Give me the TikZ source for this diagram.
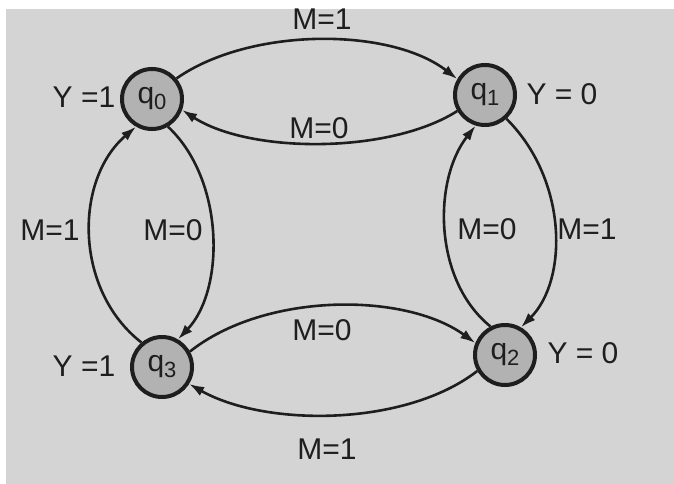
\documentclass[tikz,border=0pt]{standalone}
\usepackage{fontspec}
\setmainfont{Liberation Sans}
\usetikzlibrary{arrows.meta}
\definecolor{paper}{RGB}{212,212,212}
\definecolor{ink}{RGB}{30,30,30}
\definecolor{statefill}{RGB}{178,178,178}
\tikzset{
  state/.style={circle, draw=ink, line width=4pt, fill=statefill, minimum size=60pt, inner sep=0pt,
    font=\fontsize{30}{30}\selectfont, text=ink},
  lbl/.style={font=\fontsize{30}{30}\selectfont, text=ink, inner sep=0pt},
  edge/.style={draw=ink, line width=2.6pt, -{Latex[length=15pt,width=10pt]}},
}
\newcommand{\qs}[1]{q\raisebox{-6pt}{\fontsize{22}{22}\selectfont #1}}
\begin{document}
\begin{tikzpicture}[x=1pt,y=-1pt]
\useasboundingbox (0,0) rectangle (674,484);
\fill[white] (0,0) rectangle (674,484);
\fill[paper] (6,9) rectangle (674,484);

\node[state] (q0) at (152,99) {\qs{0}};
\node[state] (q1) at (485,95) {\qs{1}};
\node[state] (q2) at (505,355) {\qs{2}};
\node[state] (q3) at (162,367) {\qs{3}};

\node[lbl] (y0) at (84,97) {Y =1};
\node[lbl] (y1) at (562,94) {Y = 0};
\node[lbl] (y2) at (583,353) {Y = 0};
\node[lbl] (y3) at (84,366) {Y =1};

\node[lbl] (m01) at (322,19) {M=1};
\node[lbl] (m10) at (319,128) {M=0};
\node[lbl] (m30) at (50,230) {M=1};
\node[lbl] (m03) at (173,230) {M=0};
\node[lbl] (m21) at (487,229) {M=0};
\node[lbl] (m12) at (587,229) {M=1};
\node[lbl] (m32) at (322,330) {M=0};
\node[lbl] (m23) at (327,449) {M=1};

\draw[edge] (q0.40) .. controls (250,27) and (390,27) .. (q1.150);
\draw[edge] (q1.210) .. controls (390,154) and (250,154) .. (q0.-20);
\draw[edge] (q0.-60) .. controls (225,180) and (225,290) .. (q3.60);
\draw[edge] (q3.130) .. controls (74,290) and (74,180) .. (q0.240);
\draw[edge] (q1.-48) .. controls (568,180) and (568,280) .. (q2.60);
\draw[edge] (q2.117) .. controls (433,280) and (433,180) .. (q1.253);
\draw[edge] (q3.29) .. controls (265,292) and (405,292) .. (q2.158);
\draw[edge] (q2.210) .. controls (405,427) and (265,427) .. (q3.-32);
\end{tikzpicture}
\end{document}
